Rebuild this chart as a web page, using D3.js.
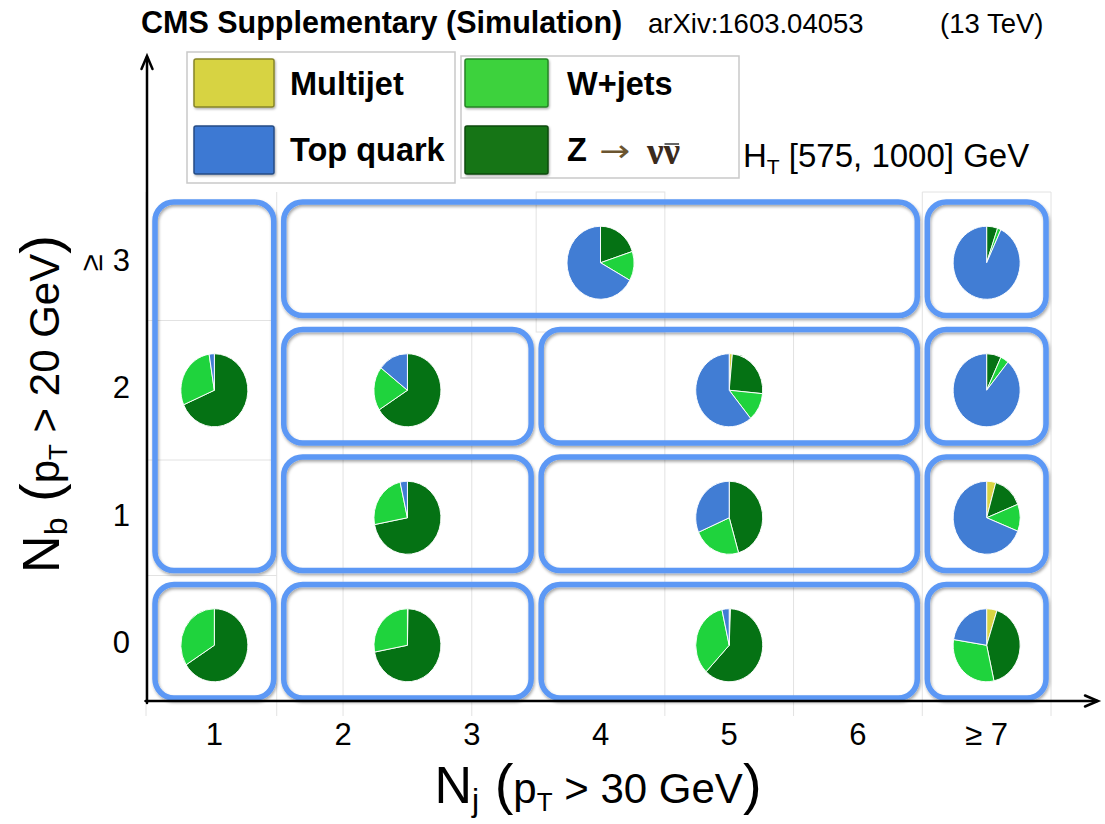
<!DOCTYPE html>
<html><head><meta charset="utf-8">
<script src="https://cdn.jsdelivr.net/npm/d3@7"></script>
<style>
html,body{margin:0;padding:0;background:#fff;}
svg{display:block;font-family:"Liberation Sans",Arial,Helvetica,sans-serif;}
</style></head><body>
<svg id="chart" width="1105" height="824"></svg>
<script>
// ---------------- data ----------------
const columns = ["1","2","3","4","5","6","≥ 7"];          // N_j bins
const rows = ["0","1","2","≥ 3"];                         // N_b bins
const seriesNames = ["Multijet","Top quark","W+jets","Z → νν̄"];
const seriesColors = ["#d8d443","#417dd4","#1fd33d","#057214"];
const legendColors = ["#d7d343","#3d79d3","#3cd23c","#137418"];
const headerTexts = ["CMS Supplementary (Simulation)","arXiv:1603.04053","(13 TeV)"];
const htLabel = ["H","T"," [575, 1000] GeV"];

// search regions (one rounded box + one pie each)
const binNjFirst = ["1","2","4","≥ 7","1","2","4","≥ 7","2","4","≥ 7","2","≥ 7"];
const binNjLast  = ["1","3","6","≥ 7","1","3","6","≥ 7","3","6","≥ 7","6","≥ 7"];
const binNbFirst = ["0","0","0","0","1","1","1","1","2","2","2","≥ 3","≥ 3"];
const binNbLast  = ["0","0","0","0","≥ 3","1","1","1","2","2","2","≥ 3","≥ 3"];

// background composition (%) per region
const multijet = [0, 0.3, 0.6, 5,   0,   0,    0,    4.4, 0,    1.5,  0,  0,  0];
const topQuark = [0, 0,   3.5, 22.5,2.5, 3.5,  31.5, 69,  14.5, 61,   89, 67, 93];
const wJets    = [34,28,  34.4,31,  29,  24.5, 23,   12,  19.5, 12.5, 4,  13, 1.7];
const zInv     = [66,71.7,61.5,41.5,68.5,72,   45.5, 14.6,66,   25,   7,  20, 5.3];

// ---------------- chart ----------------
const svg = d3.select("#chart");
const defs = svg.append("defs");
const f = defs.append("filter").attr("id","shadow").attr("x","-10%").attr("y","-10%").attr("width","120%").attr("height","130%");
f.append("feDropShadow").attr("dx",1).attr("dy",2).attr("stdDeviation",1.5).attr("flood-color","#000").attr("flood-opacity",0.35);
const f2 = defs.append("filter").attr("id","sw").attr("x","-10%").attr("y","-10%").attr("width","130%").attr("height","140%");
f2.append("feDropShadow").attr("dx",1).attr("dy",1.5).attr("stdDeviation",1).attr("flood-color","#000").attr("flood-opacity",0.3);

const x = d3.scaleBand().domain(columns).range([150, 1051]);
const y = d3.scaleBand().domain(rows).range([703, 193]);
const bw = x.bandwidth(), bh = y.bandwidth();

// faint tile grid
const gT = svg.append("g").attr("stroke","#e2e2e2").attr("stroke-width",1).attr("fill","none");
[x.range()[0]-4, x("2")-2, x("≥ 7"), x.range()[1]].forEach(v =>
  gT.append("line").attr("x1",v).attr("x2",v).attr("y1",192).attr("y2",716));
[x("2")+bw/2, x("3")+bw/2, x("5"), x("6")].forEach(v =>
  gT.append("line").attr("x1",v).attr("x2",v).attr("y1",y("2")).attr("y2",716));
gT.append("rect").attr("x",x("4")).attr("y",192).attr("width",bw).attr("height",140);
[y("2"), y("1")+12, y("0")].forEach(v =>
  gT.append("line").attr("x1",x.range()[0]-4).attr("x2",x("2")-2).attr("y1",v).attr("y2",v));
gT.append("line").attr("x1",x("≥ 7")).attr("x2",x.range()[1]).attr("y1",192).attr("y2",192);

// region boxes
const insX = 5, insTop = 9, insBot = 5;
const regions = binNjFirst.map((d,i) => {
  const x0 = x(binNjFirst[i]), x1 = x(binNjLast[i]) + bw;
  const yTop = y(binNbLast[i]), yBot = y(binNbFirst[i]) + bh;
  return {i, x0, x1, yTop, yBot};
});
svg.append("g").selectAll("rect").data(regions).join("rect")
  .attr("x", d => d.x0 + insX).attr("y", d => d.yTop + insTop)
  .attr("width", d => d.x1 - d.x0 - 2*insX).attr("height", d => d.yBot - d.yTop - insTop - insBot)
  .attr("rx",19).attr("ry",19)
  .attr("fill","none").attr("stroke","#5c98f5").attr("stroke-width",5.5)
  .attr("filter","url(#shadow)");

// pies
const pie = d3.pie().sort(null).value(d => d.v);
const arc = d3.arc().innerRadius(0).outerRadius(33.5);
const sliceOrder = [0,3,2,1]; // clockwise from 12 o'clock: Multijet, Z, W, Top
const seriesVals = [multijet, topQuark, wJets, zInv];
const gp = svg.append("g").selectAll("g").data(regions).join("g")
  .attr("transform", d => `translate(${(d.x0+d.x1)/2},${(d.yTop+d.yBot)/2+6}) scale(1,1.09)`);
gp.selectAll("path").data(d => pie(sliceOrder.map(k => ({k, v: seriesVals[k][d.i]}))).filter(s => s.data.v > 0))
  .join("path").attr("d", arc).attr("fill", s => seriesColors[s.data.k])
  .attr("stroke","#fff").attr("stroke-width",0.9).attr("stroke-linejoin","round");

// axes
const xAxis = svg.append("g").attr("transform","translate(0,701)")
  .call(d3.axisBottom(x).tickSize(0).tickPadding(22));
xAxis.select(".domain").remove();
xAxis.selectAll("text").attr("font-size",31).attr("font-family","Liberation Sans, Arial, sans-serif").attr("fill","#000");

const yAxis = svg.append("g").attr("transform","translate(147,0)")
  .call(d3.axisLeft(y).tickSize(0).tickPadding(17).tickFormat(d => d === "≥ 3" ? "3" : d));
yAxis.select(".domain").remove();
yAxis.selectAll("text").attr("font-size",31).attr("font-family","Liberation Sans, Arial, sans-serif").attr("fill","#000")
  .attr("transform","translate(0,4)");
yAxis.selectAll(".tick").filter(d => d === "≥ 3").append("text")
  .attr("transform","translate(-56,6) rotate(-90)")
  .attr("text-anchor","middle").attr("dominant-baseline","central")
  .attr("font-size",31).attr("fill","#000").text("≥");

// axis lines with arrows
const ax = svg.append("g").attr("stroke","#000").attr("fill","none").attr("stroke-width",2.5).attr("stroke-linecap","round");
ax.append("line").attr("x1",147).attr("x2",147).attr("y1",703).attr("y2",57);
ax.append("polyline").attr("points","141.5,69 147,56 152.5,69");
ax.append("line").attr("x1",145.5).attr("x2",1097).attr("y1",701).attr("y2",701);
ax.append("polyline").attr("points","1085,695.5 1098,701 1085,706.5");

// axis titles
function title(g, main, sub, rest) {
  g.append("tspan").attr("font-size",52).text(main);
  g.append("tspan").attr("font-size",32).attr("dy",8).text(sub);
  g.append("tspan").attr("font-size",56).attr("dy",-8).text(" (");
  g.append("tspan").attr("font-size",42).text("p");
  g.append("tspan").attr("font-size",26).attr("dy",8).text("T");
  g.append("tspan").attr("font-size",42).attr("dy",-8).text(rest);
  g.append("tspan").attr("font-size",56).text(")");
}
title(svg.append("text").attr("x",598).attr("y",803).attr("text-anchor","middle"), "N","j"," > 30 GeV");
title(svg.append("text").attr("transform","translate(59,404) rotate(-90)").attr("text-anchor","middle"), "N","b"," > 20 GeV");

// header
svg.append("text").attr("x",141).attr("y",33).attr("font-weight","bold").attr("font-size",30.5).text(headerTexts[0]);
svg.append("text").attr("x",648).attr("y",33).attr("font-size",27.5).text(headerTexts[1]);
svg.append("text").attr("x",940).attr("y",33).attr("font-size",27.5).text(headerTexts[2]);
const ht = svg.append("text").attr("x",743).attr("y",167).attr("font-size",33);
ht.append("tspan").text(htLabel[0]);
ht.append("tspan").attr("font-size",21).attr("dy",7).text(htLabel[1]);
ht.append("tspan").attr("dy",-7).text(htLabel[2]);

// legend
const lg = svg.append("g");
lg.append("rect").attr("x",187).attr("y",52).attr("width",268).attr("height",131).attr("fill","#fff").attr("stroke","#c9c9c9").attr("stroke-width",1.5);
lg.append("rect").attr("x",461).attr("y",56).attr("width",278).attr("height",122).attr("fill","#fff").attr("stroke","#c9c9c9").attr("stroke-width",1.5);
const swX = [194, 465], swW = [80, 83], txX = [290, 567], swY = [59, 126], txY = [95, 161];
seriesNames.forEach((name, i) => {
  const c = Math.floor(i/2), r = i % 2;
  lg.append("rect").attr("x",swX[c]).attr("y",swY[r]).attr("width",swW[c]).attr("height",48).attr("rx",2)
    .attr("fill",legendColors[i]).attr("stroke",d3.color(legendColors[i]).darker(1.3)).attr("stroke-width",1.5)
    .attr("filter","url(#sw)");
  if (i < 3) {
    lg.append("text").attr("x",txX[c]).attr("y",txY[r]).attr("font-weight","bold").attr("font-size",32.5).text(name);
  } else {
    const parts = name.split(" ");
    lg.append("text").attr("x",txX[c]).attr("y",txY[r]).attr("font-weight","bold").attr("font-size",32.5).text(parts[0]);
    const arr = lg.append("text").attr("x",599).attr("y",txY[r]).attr("font-family","DejaVu Sans, sans-serif")
      .attr("font-size",30).attr("fill","#6b5530").text(parts[1]);
    arr.attr("textLength",31).attr("lengthAdjust","spacingAndGlyphs");
    const nu = parts[2];
    const t1 = lg.append("text").attr("x",647).attr("y",164).attr("font-family","Liberation Serif, Times New Roman, serif")
      .attr("font-weight","bold").attr("font-size",37).attr("fill","#3b2a1c").text(nu[0]);
    const w = t1.node().getComputedTextLength();
    lg.append("text").attr("x",647+w).attr("y",164).attr("font-family","Liberation Serif, Times New Roman, serif")
      .attr("font-weight","bold").attr("font-size",37).attr("fill","#3b2a1c").text(nu[1]);
    lg.append("line").attr("x1",647+w+1).attr("x2",647+2*w-1).attr("y1",144).attr("y2",144)
      .attr("stroke","#666").attr("stroke-width",2);
  }
});
</script>
</body></html>
